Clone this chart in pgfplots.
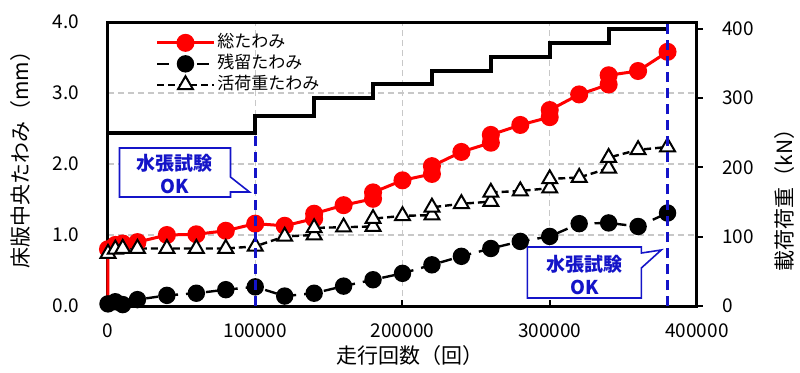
\documentclass[border=0pt]{standalone}
\usepackage{pgfplots}
\pgfplotsset{compat=1.18}
\usepackage{fontspec}
\setmainfont{Noto Sans CJK JP}
\definecolor{myblue}{RGB}{20,20,200}
\definecolor{gridgray}{RGB}{200,200,200}
\begin{document}
\begin{tikzpicture}
\pgfplotsset{
  every axis/.append style={
    scale only axis, width=294.5pt, height=142pt,
    xmin=0, xmax=400000,
    /pgf/number format/assume math mode=true,
    tick label style={font=\fontsize{9.5}{11}\selectfont},
    label style={font=\fontsize{10.5}{12}\selectfont},
  }
}
\begin{axis}[
  ymin=0, ymax=4,
  xtick={0,100000,200000,300000,400000},
  ytick={0,1,2,3,4},
  scaled x ticks=false,
  xticklabel style={/pgf/number format/.cd, fixed, 1000 sep={}, /tikz/yshift=-5.5pt},
  yticklabel style={/pgf/number format/.cd, fixed, fixed zerofill, precision=1, /tikz/xshift=-11pt},
  axis line style={line width=1.5pt},
  grid=major,
  grid style={gridgray, dash pattern=on 3pt off 2pt, line width=0.6pt},
  xtick pos=left, ytick pos=left,
  tick align=inside, major tick length=3pt,
  xtick style={line width=1pt, black},
  ytick style={draw=none},
  clip=false,
  xlabel={走行回数（回）},
  xlabel style={at={(axis description cs:0.513,-0.173)}, anchor=center},
  ylabel={床版中央たわみ（mm）},
  ylabel style={at={(axis description cs:-0.149,0.532)}, anchor=center},
  legend style={at={(axis description cs:0.08,0.965)}, anchor=north west, draw=none, fill=none,
    font=\fontsize{8.5}{10}\selectfont, row sep=0pt, inner sep=0pt,
    nodes={inner sep=1pt, text height=6.5pt, text depth=2pt}},
  legend cell align=left,
  legend image code/.code={\draw[mark repeat=2, mark phase=2] plot coordinates {(0cm,0cm) (0.5cm,0cm) (1cm,0cm)};},
]
\coordinate (O) at (rel axis cs:0,0);
\addplot[red, line width=1.5pt, mark=*, mark size=3.75pt, mark phase=2, mark repeat=1, mark options={solid, fill=red}] table {
x y
0 0
0 0.80
5000 0.86
10000 0.88
20000 0.90
40000 1.00
60000 1.01
80000 1.06
100000 1.16
120000 1.13
140000 1.23
140000 1.30
160000 1.42
180000 1.51
180000 1.60
200000 1.77
220000 1.86
220000 1.97
240000 2.17
260000 2.30
260000 2.41
280000 2.55
300000 2.66
300000 2.76
320000 2.98
340000 3.12
340000 3.25
360000 3.31
380000 3.58
};
\addlegendentry{総たわみ}
\addplot[black, line width=1.2pt, dash pattern=on 6pt off 4pt, mark=*, mark size=3.75pt, mark options={solid, fill=black}] table {
x y
0 0.03
5000 0.06
10000 0.02
20000 0.09
40000 0.15
60000 0.18
80000 0.23
100000 0.27
120000 0.14
140000 0.18
160000 0.28
180000 0.37
200000 0.46
220000 0.58
240000 0.70
260000 0.81
280000 0.91
300000 0.98
320000 1.16
340000 1.17
360000 1.12
380000 1.31
};
\addlegendentry{残留たわみ}
\addplot[black, line width=1.2pt, dash pattern=on 3.5pt off 2pt, mark=triangle*, mark size=4.3pt, mark options={solid, fill=white, line width=1pt}] table {
x y
0 0.74
5000 0.80
10000 0.81
20000 0.81
40000 0.81
60000 0.81
80000 0.81
100000 0.84
120000 0.98
140000 1.00
140000 1.10
160000 1.11
180000 1.12
180000 1.23
200000 1.27
220000 1.28
220000 1.39
240000 1.44
260000 1.47
260000 1.60
280000 1.62
300000 1.66
300000 1.79
320000 1.81
340000 1.94
340000 2.09
360000 2.20
380000 2.24
};
\addlegendentry{活荷重たわみ}
\draw[myblue, line width=0.8pt, fill=white] (axis cs:7807,2.225) -- (axis cs:83163,2.225) -- (axis cs:83163,1.817) -- (axis cs:96062,1.606) -- (axis cs:83163,1.606) -- (axis cs:83163,1.535) -- (axis cs:7807,1.535) -- cycle;
\node[myblue, font=\bfseries\fontsize{9.5}{11.5}\selectfont, align=center] at (axis cs:45500,1.86) {水張試験\\OK};
\draw[myblue, line width=0.8pt, fill=white] (axis cs:284793,0.831) -- (axis cs:362186,0.831) -- (axis cs:362186,0.746) -- (axis cs:375764,0.789) -- (axis cs:362186,0.535) -- (axis cs:362186,0.113) -- (axis cs:284793,0.113) -- cycle;
\node[myblue, font=\bfseries\fontsize{9.5}{11.5}\selectfont, align=center] at (axis cs:323490,0.437) {水張試験\\OK};
\end{axis}
\begin{axis}[
  ymin=0, ymax=410,
  axis x line=none, axis y line*=right,
  ytick={0,100,200,300,400},
  tick align=outside, major tick length=3pt,
  ytick style={line width=1pt, black},
  yticklabel style={xshift=6pt},
  axis line style={line width=1.5pt},
  ylabel={載荷荷重（kN）},
  ylabel style={at={(axis description cs:1.148,0.391)}, anchor=center},
  clip=false,
]
\addplot[black, line width=2pt, const plot] table {
x y
0 250
100000 275
140000 300
180000 320
220000 340
260000 360
300000 380
340000 400
380000 400
};
\addplot[myblue, line width=1.5pt, dash pattern=on 5pt off 3pt] coordinates {(100000,0) (100000,250)};
\addplot[myblue, line width=1.5pt, dash pattern=on 5pt off 3pt] coordinates {(380000,0) (380000,410)};
\end{axis}
\pgfresetboundingbox
\path (O) ++(-54pt,-33pt) rectangle ++(400pt,186pt);
\end{tikzpicture}
\end{document}
